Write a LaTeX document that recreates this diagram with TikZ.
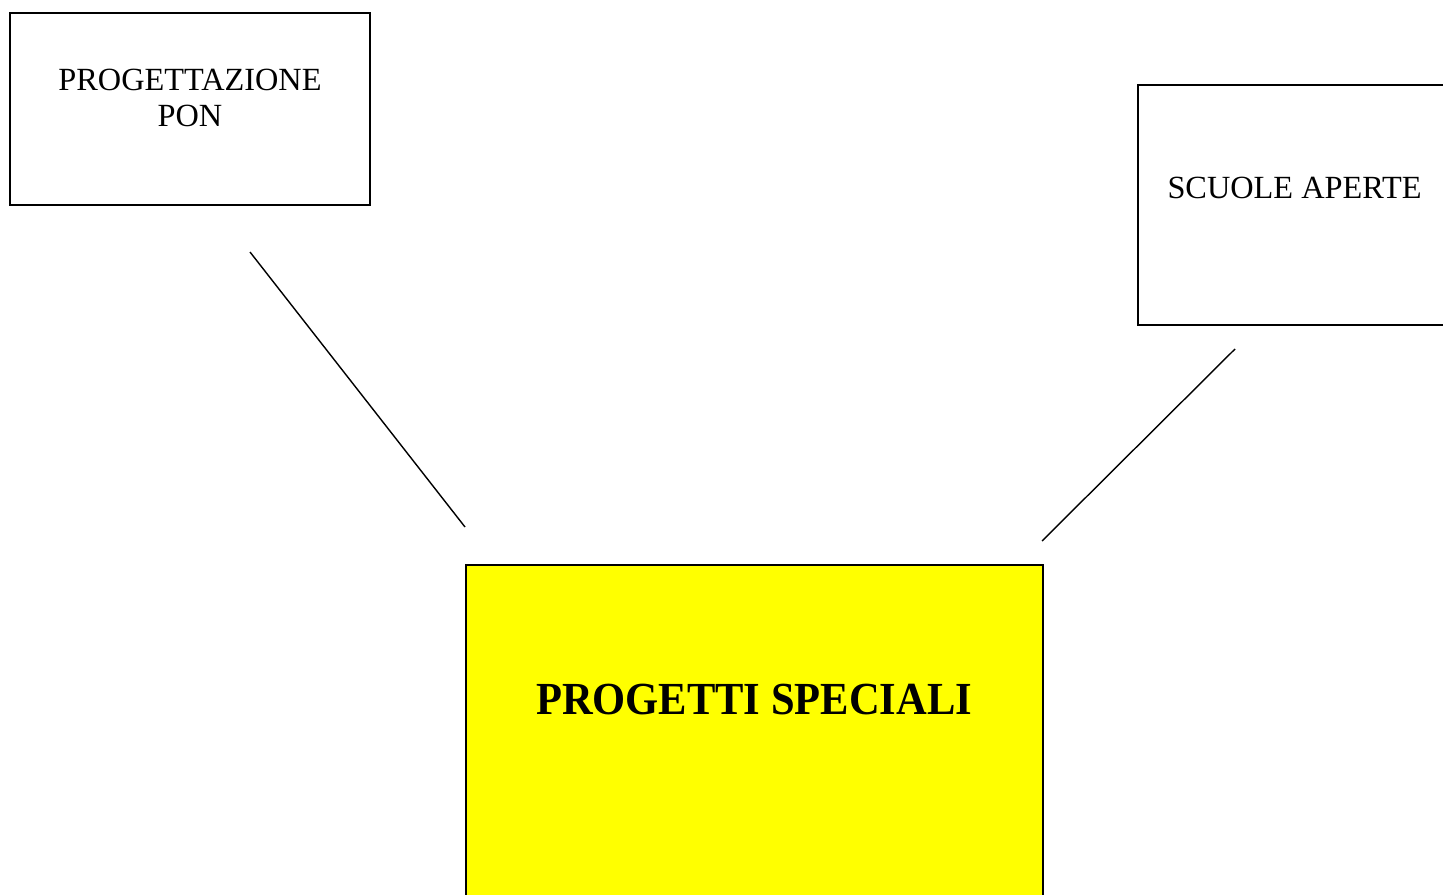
\documentclass[tikz,border=0pt]{standalone}
\usepackage{fontspec}
\setmainfont{Liberation Serif}
\definecolor{progyellow}{RGB}{255,255,0}
\tikzset{
  box/.style={draw, line width=1.1pt, inner sep=0pt},
  label text/.style={align=center, font=\fontsize{18.4}{21}\selectfont},
  link/.style={line width=0.8pt}
}
\begin{document}
\begin{tikzpicture}[x=0.02cm, y=-0.02cm]
    \clip (0, 0) rectangle (1443, 895);
    \fill[white] (0, 0) rectangle (1443, 895);

    \node[box, minimum width=7.2cm, minimum height=3.84cm] (pon) at (190, 109) {};
    \node[label text] (pontext) at (190, 98) {PROGETTAZIONE\\PON};

    \node[box, minimum width=6.44cm, minimum height=4.8cm] (aperte) at (1299, 205) {};
    \node[label text] (apertetext) at (1294.5, 188) {SCUOLE APERTE};

    \node[box, fill=progyellow, minimum width=11.54cm, minimum height=7.7cm] (speciali) at (754.5, 757.5) {};
    \node[font=\fontsize{24.2}{28}\selectfont\bfseries, yscale=1.08] (specialitext) at (754, 700) {PROGETTI SPECIALI};

    \coordinate (a1) at (250, 252);
    \coordinate (a2) at (465, 527);
    \coordinate (b1) at (1235, 349);
    \coordinate (b2) at (1042, 541);
    \draw[link] (a1) -- (a2);
    \draw[link] (b1) -- (b2);
  \end{tikzpicture}
\end{document}
